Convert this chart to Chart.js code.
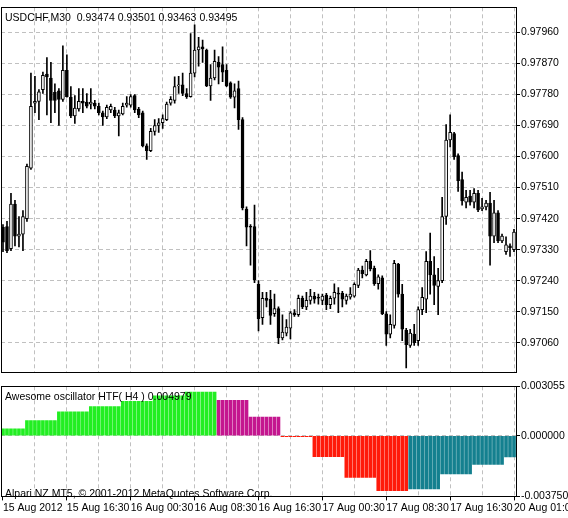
<!DOCTYPE html>
<html>
<head>
<meta charset="utf-8">
<script src="https://cdn.jsdelivr.net/npm/chart.js@4.4.1/dist/chart.umd.min.js"></script>
<style>
  body { margin: 0; background: #fff; }
  #wrap { position: relative; width: 568px; height: 518px; overflow: hidden; }
  #price-chart { position: absolute; left: 0; top: 0; }
  #ao-chart { position: absolute; left: 0; top: 379px; }
</style>
</head>
<body>
<div id="wrap">
  <canvas id="price-chart" width="568" height="380"></canvas>
  <canvas id="ao-chart" width="568" height="139"></canvas>
</div>
<script>
// USDCHF M30 candles, one entry per bar
const opens = [
  0.97395, 0.97397, 0.97333, 0.97462, 0.97369, 0.97375, 0.97420, 0.97566, 0.97755, 0.97760,
  0.97794, 0.97839, 0.97828, 0.97786, 0.97791, 0.97766, 0.97850, 0.97772, 0.97718, 0.97738,
  0.97760, 0.97758, 0.97752, 0.97755, 0.97746, 0.97727, 0.97715, 0.97735, 0.97735, 0.97718,
  0.97724, 0.97749, 0.97749, 0.97777, 0.97738, 0.97727, 0.97631, 0.97617, 0.97673, 0.97690,
  0.97698, 0.97707, 0.97755, 0.97763, 0.97805, 0.97808, 0.97783, 0.97774, 0.97842, 0.97909,
  0.97918, 0.97909, 0.97805, 0.97828, 0.97873, 0.97867, 0.97850, 0.97814, 0.97772, 0.97797,
  0.97707, 0.97448, 0.97397, 0.97397, 0.97229, 0.97133, 0.97189, 0.97186, 0.97144, 0.97159,
  0.97074, 0.97088, 0.97102, 0.97147, 0.97141, 0.97189, 0.97164, 0.97183, 0.97195, 0.97192,
  0.97183, 0.97198, 0.97170, 0.97189, 0.97203, 0.97203, 0.97183, 0.97192, 0.97195, 0.97226,
  0.97271, 0.97257, 0.97296, 0.97276, 0.97231, 0.97248, 0.97144, 0.97085, 0.97110, 0.97288,
  0.97201, 0.97096, 0.97052, 0.97085, 0.97066, 0.97156, 0.97186, 0.97296, 0.97257, 0.97223,
  0.97240, 0.97426, 0.97648, 0.97667, 0.97603, 0.97533, 0.97468, 0.97485, 0.97468, 0.97493,
  0.97448, 0.97454, 0.97465, 0.97369, 0.97437, 0.97355, 0.97324, 0.97341, 0.97330
];
const highs = [
  0.97403, 0.97412, 0.97493, 0.97473, 0.97426, 0.97443, 0.97578, 0.97842, 0.97833, 0.97794,
  0.97845, 0.97887, 0.97873, 0.97811, 0.97797, 0.97921, 0.97895, 0.97803, 0.97777, 0.97797,
  0.97797, 0.97783, 0.97797, 0.97763, 0.97755, 0.97732, 0.97749, 0.97752, 0.97743, 0.97735,
  0.97755, 0.97774, 0.97780, 0.97780, 0.97743, 0.97732, 0.97637, 0.97682, 0.97707, 0.97710,
  0.97721, 0.97758, 0.97774, 0.97831, 0.97833, 0.97842, 0.97797, 0.97957, 0.97982, 0.97946,
  0.97938, 0.97912, 0.97867, 0.97909, 0.97890, 0.97918, 0.97867, 0.97817, 0.97811, 0.97819,
  0.97713, 0.97454, 0.97403, 0.97459, 0.97240, 0.97206, 0.97206, 0.97212, 0.97201, 0.97164,
  0.97141, 0.97127, 0.97150, 0.97156, 0.97198, 0.97195, 0.97206, 0.97215, 0.97206, 0.97201,
  0.97201, 0.97203, 0.97195, 0.97231, 0.97220, 0.97209, 0.97201, 0.97220, 0.97234, 0.97276,
  0.97282, 0.97302, 0.97327, 0.97282, 0.97257, 0.97254, 0.97150, 0.97141, 0.97299, 0.97290,
  0.97229, 0.97102, 0.97099, 0.97113, 0.97164, 0.97220, 0.97324, 0.97378, 0.97310, 0.97276,
  0.97482, 0.97693, 0.97721, 0.97670, 0.97608, 0.97555, 0.97502, 0.97502, 0.97507, 0.97502,
  0.97479, 0.97473, 0.97496, 0.97473, 0.97443, 0.97375, 0.97367, 0.97347, 0.97389
];
const lows = [
  0.97324, 0.97321, 0.97327, 0.97341, 0.97338, 0.97327, 0.97412, 0.97563, 0.97727, 0.97707,
  0.97783, 0.97721, 0.97698, 0.97727, 0.97690, 0.97760, 0.97772, 0.97713, 0.97696, 0.97732,
  0.97727, 0.97741, 0.97738, 0.97738, 0.97721, 0.97690, 0.97710, 0.97727, 0.97713, 0.97660,
  0.97721, 0.97743, 0.97743, 0.97727, 0.97713, 0.97628, 0.97592, 0.97614, 0.97662, 0.97670,
  0.97682, 0.97704, 0.97749, 0.97755, 0.97783, 0.97777, 0.97769, 0.97772, 0.97831, 0.97862,
  0.97873, 0.97803, 0.97763, 0.97822, 0.97811, 0.97817, 0.97803, 0.97769, 0.97741, 0.97679,
  0.97445, 0.97341, 0.97285, 0.97234, 0.97094, 0.97113, 0.97164, 0.97113, 0.97136, 0.97057,
  0.97068, 0.97080, 0.97071, 0.97136, 0.97136, 0.97159, 0.97156, 0.97172, 0.97175, 0.97172,
  0.97170, 0.97156, 0.97159, 0.97172, 0.97147, 0.97164, 0.97172, 0.97186, 0.97192, 0.97220,
  0.97248, 0.97254, 0.97268, 0.97226, 0.97215, 0.97141, 0.97052, 0.97074, 0.97102, 0.97192,
  0.97066, 0.96987, 0.97046, 0.97052, 0.97052, 0.97141, 0.97147, 0.97201, 0.97170, 0.97141,
  0.97234, 0.97403, 0.97628, 0.97592, 0.97499, 0.97459, 0.97451, 0.97459, 0.97451, 0.97440,
  0.97443, 0.97445, 0.97285, 0.97350, 0.97350, 0.97350, 0.97316, 0.97310, 0.97324
];
const closes = [
  0.97352, 0.97327, 0.97462, 0.97369, 0.97375, 0.97426, 0.97572, 0.97746, 0.97760, 0.97788,
  0.97836, 0.97831, 0.97763, 0.97763, 0.97766, 0.97850, 0.97774, 0.97718, 0.97741, 0.97760,
  0.97755, 0.97746, 0.97758, 0.97746, 0.97727, 0.97715, 0.97743, 0.97746, 0.97718, 0.97727,
  0.97746, 0.97755, 0.97774, 0.97735, 0.97721, 0.97631, 0.97617, 0.97673, 0.97690, 0.97698,
  0.97710, 0.97752, 0.97766, 0.97803, 0.97808, 0.97783, 0.97774, 0.97842, 0.97909, 0.97918,
  0.97912, 0.97805, 0.97828, 0.97876, 0.97859, 0.97845, 0.97805, 0.97772, 0.97791, 0.97707,
  0.97451, 0.97395, 0.97395, 0.97243, 0.97130, 0.97189, 0.97183, 0.97139, 0.97159, 0.97074,
  0.97091, 0.97105, 0.97147, 0.97141, 0.97189, 0.97164, 0.97183, 0.97195, 0.97186, 0.97189,
  0.97195, 0.97170, 0.97189, 0.97206, 0.97201, 0.97186, 0.97195, 0.97201, 0.97229, 0.97271,
  0.97260, 0.97296, 0.97274, 0.97231, 0.97251, 0.97144, 0.97085, 0.97113, 0.97290, 0.97201,
  0.97099, 0.97054, 0.97088, 0.97060, 0.97156, 0.97192, 0.97296, 0.97257, 0.97226, 0.97240,
  0.97426, 0.97648, 0.97670, 0.97600, 0.97530, 0.97471, 0.97482, 0.97468, 0.97493, 0.97445,
  0.97454, 0.97465, 0.97369, 0.97437, 0.97355, 0.97369, 0.97344, 0.97336, 0.97381
];

// Awesome oscillator on H4, repeated over the M30 bars of each H4 block
const aoValues = [
  0.00043, 0.00043, 0.00043, 0.00043, 0.00043, 0.00043,
  0.00094, 0.00094, 0.00094, 0.00094, 0.00094, 0.00094, 0.00094, 0.00094,
  0.00148, 0.00148, 0.00148, 0.00148, 0.00148, 0.00148, 0.00148, 0.00148,
  0.00180, 0.00180, 0.00180, 0.00180, 0.00180, 0.00180, 0.00180, 0.00180,
  0.00212, 0.00212, 0.00212, 0.00212, 0.00212, 0.00212, 0.00212, 0.00212,
  0.00247, 0.00247, 0.00247, 0.00247, 0.00247, 0.00247, 0.00247, 0.00247,
  0.00270, 0.00270, 0.00270, 0.00270, 0.00270, 0.00270, 0.00270, 0.00270,
  0.00219, 0.00219, 0.00219, 0.00219, 0.00219, 0.00219, 0.00219, 0.00219,
  0.00116, 0.00116, 0.00116, 0.00116, 0.00116, 0.00116, 0.00116, 0.00116,
  -0.00004, -0.00004, -0.00004, -0.00004, -0.00004, -0.00004, -0.00004, -0.00004,
  -0.00129, -0.00129, -0.00129, -0.00129, -0.00129, -0.00129, -0.00129, -0.00129,
  -0.00257, -0.00257, -0.00257, -0.00257, -0.00257, -0.00257, -0.00257, -0.00257,
  -0.00339, -0.00339, -0.00339, -0.00339, -0.00339, -0.00339, -0.00339, -0.00339,
  -0.00328, -0.00328, -0.00328, -0.00328, -0.00328, -0.00328, -0.00328, -0.00328,
  -0.00236, -0.00236, -0.00236, -0.00236, -0.00236, -0.00236, -0.00236, -0.00236,
  -0.00178, -0.00178, -0.00178, -0.00178, -0.00178, -0.00178, -0.00178, -0.00178,
  -0.00131, -0.00131, -0.00131
];

const priceTicks = [0.97060, 0.97150, 0.97240, 0.97330, 0.97420, 0.97510, 0.97600, 0.97690, 0.97780, 0.97870, 0.97960];
const aoTicks = [-0.003750, 0.000000, 0.003055];
const timeLabels = ['15 Aug 2012', '15 Aug 16:30', '16 Aug 00:30', '16 Aug 08:30', '16 Aug 16:30',
                    '17 Aug 00:30', '17 Aug 08:30', '17 Aug 16:30', '20 Aug 01:00'];
const timeLabelBars = [0, 16, 32, 48, 64, 80, 96, 112, 128];
const gridEvery = 8;

const categories = opens.map((_, i) => {
  const k = timeLabelBars.indexOf(i);
  return k >= 0 ? timeLabels[k] : '';
});

const FONT = { family: 'Liberation Sans', size: 10.5 };
const AXIS_W = 52;
const GRID = '#c0c0c0';
const NONE = 'rgba(0,0,0,0)';

Chart.defaults.animation = false;
Chart.defaults.color = '#000';

function gridColor(ctx) {
  const i = ctx.index;
  return (i > 0 && i % gridEvery === 0) ? GRID : NONE;
}
function labelTickColor(ctx) {
  return timeLabelBars.indexOf(ctx.index) >= 0 ? '#000' : NONE;
}
function noSidePadding(s) {
  s.paddingLeft = 0;
  s.paddingRight = 0;
}

// black box around plot area plus corner texts
function frame(texts) {
  return {
    id: 'frame',
    afterDraw(chart) {
      const { ctx, chartArea: a } = chart;
      ctx.save();
      ctx.strokeStyle = '#000';
      ctx.lineWidth = 1;
      ctx.strokeRect(Math.floor(a.left) + 0.5, Math.floor(a.top) + 0.5,
                     Math.round(a.right - a.left), Math.round(a.bottom - a.top));
      ctx.fillStyle = '#000';
      ctx.font = '10.5px "Liberation Sans"';
      ctx.textBaseline = 'middle';
      texts.forEach(t => ctx.fillText(t.text, a.left + 4, a.top + t.dy));
      ctx.restore();
    }
  };
}

// price panel
const wicks = opens.map((_, i) => [lows[i], highs[i]]);
const bodies = opens.map((o, i) => [o, closes[i]]);
const bodyFill = opens.map((o, i) => closes[i] < o ? '#000' : '#fff');

new Chart(document.getElementById('price-chart'), {
  type: 'bar',
  data: {
    labels: categories,
    datasets: [
      {
        data: bodies,
        backgroundColor: bodyFill,
        borderColor: '#000',
        borderWidth: 1,
        borderSkipped: false,
        barThickness: 3,
        minBarLength: 1,
        grouped: false,
        order: 0
      },
      {
        data: wicks,
        backgroundColor: '#000',
        barThickness: 1,
        grouped: false,
        order: 1
      }
    ]
  },
  options: {
    responsive: false,
    maintainAspectRatio: false,
    devicePixelRatio: 1,
    layout: { padding: { top: 1, left: 1, right: 0, bottom: 1 } },
    plugins: { legend: { display: false }, tooltip: { enabled: false } },
    scales: {
      x: {
        afterFit: s => { s.height = 0; noSidePadding(s); },
        grid: { color: gridColor, offset: false, drawTicks: false },
        border: { display: false, dash: [4, 3] },
        ticks: { display: false, autoSkip: false }
      },
      y: {
        position: 'right',
        min: 0.96973,
        max: 0.98033,
        afterBuildTicks: s => { s.ticks = priceTicks.map(v => ({ value: v })); },
        afterFit: s => { s.width = AXIS_W; },
        grid: { color: GRID, tickLength: 4, tickColor: '#000' },
        border: { display: false, dash: [4, 3] },
        ticks: { font: FONT, padding: 1, callback: v => v.toFixed(5) }
      }
    }
  },
  plugins: [frame([{ text: 'USDCHF,M30  0.93474 0.93501 0.93463 0.93495', dy: 11 }])]
});

// oscillator panel
const aoColors = aoValues.map((v, i) => {
  let k = i;
  while (k > 0 && aoValues[k - 1] === aoValues[k]) k--;
  const rising = k === 0 ? true : aoValues[k] > aoValues[k - 1];
  if (v >= 0) return rising ? '#22ee22' : '#c4168f';
  return rising ? '#14808f' : '#ff1a0a';
});

new Chart(document.getElementById('ao-chart'), {
  type: 'bar',
  data: {
    labels: categories,
    datasets: [{
      data: aoValues,
      backgroundColor: aoColors,
      barThickness: 3,
      minBarLength: 1
    }]
  },
  options: {
    responsive: false,
    maintainAspectRatio: false,
    devicePixelRatio: 1,
    layout: { padding: { top: 1, left: 1, right: 0, bottom: 3 } },
    plugins: { legend: { display: false }, tooltip: { enabled: false } },
    scales: {
      x: {
        afterFit: noSidePadding,
        grid: { color: gridColor, offset: false, tickLength: 4, tickColor: labelTickColor },
        border: { display: false, dash: [4, 3] },
        ticks: {
          font: FONT, autoSkip: false, maxRotation: 0, align: 'start', padding: 1,
          callback: (v, i) => categories[i]
        }
      },
      y: {
        position: 'right',
        min: -0.003750,
        max: 0.003055,
        afterBuildTicks: s => { s.ticks = aoTicks.map(v => ({ value: v })); },
        afterFit: s => { s.width = AXIS_W; },
        grid: { color: GRID, tickLength: 4, tickColor: '#000' },
        border: { display: false, dash: [4, 3] },
        ticks: { font: FONT, padding: 1, callback: v => v.toFixed(6) }
      }
    }
  },
  plugins: [frame([
    { text: 'Awesome oscillator HTF( H4 ) 0.004979', dy: 11 },
    { text: 'Alpari NZ MT5, © 2001-2012 MetaQuotes Software Corp.', dy: 108 }
  ])]
});
</script>
</body>
</html>
